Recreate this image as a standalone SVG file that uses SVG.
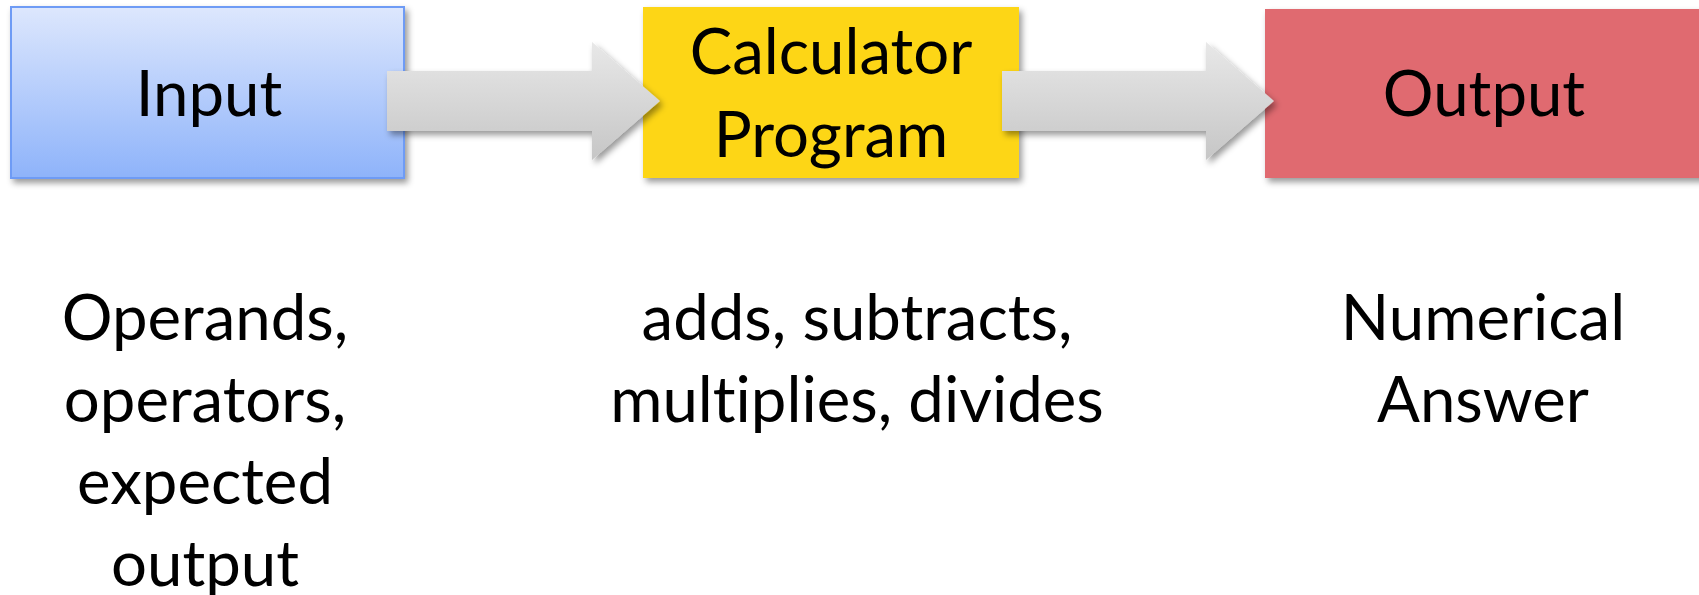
<svg xmlns="http://www.w3.org/2000/svg" width="1699" height="595" viewBox="0 0 1699 595">
<style>
.t{font-family:Lato,"Open Sans","DejaVu Sans",sans-serif;font-size:63.5px;fill:#000;text-anchor:middle;font-variant-ligatures:none;font-feature-settings:"liga" 0}
</style>
<defs>
<linearGradient id="gIn" x1="0" y1="0" x2="0" y2="1">
<stop offset="0" stop-color="#DDE7FD"/>
<stop offset="1" stop-color="#8EB3FA"/>
</linearGradient>
<linearGradient id="gAr" x1="0" y1="0" x2="0" y2="1">
<stop offset="0" stop-color="#E8E8E8"/>
<stop offset="1" stop-color="#C6C6C6"/>
</linearGradient>
<filter id="sh" x="-10%" y="-10%" width="130%" height="140%">
<feDropShadow dx="3" dy="4" stdDeviation="3" flood-color="#000" flood-opacity="0.4"/>
</filter>
</defs>
<rect width="1699" height="595" fill="#fff"/>
<g id="input">
<rect x="11" y="7" width="393" height="171" fill="url(#gIn)" stroke="#6E9BF5" stroke-width="2" filter="url(#sh)"/>
<text class="t" x="209" y="116">Input</text>
</g>
<g id="calculator">
<rect x="643" y="7" width="376" height="171" fill="#FDD618" filter="url(#sh)"/>
<text class="t" x="831" y="74">Calculator</text>
<text class="t" x="831" y="157">Program</text>
</g>
<g id="output">
<rect x="1265" y="9" width="440" height="169" fill="#E06B70" filter="url(#sh)"/>
<text class="t" x="1484" y="116">Output</text>
</g>
<g id="connectors">
<path d="M387,71 H592 V42 L660,101 L592,160 V131 H387 Z" fill="url(#gAr)" filter="url(#sh)"/>
<path d="M1002,71 H1206 V42 L1274,101 L1206,160 V131 H1002 Z" fill="url(#gAr)" filter="url(#sh)"/>
</g>
<g id="input-desc">
<text class="t" x="205" y="340">Operands,</text>
<text class="t" x="205" y="422">operators,</text>
<text class="t" x="205" y="504">expected</text>
<text class="t" x="205" y="586">output</text>
</g>
<g id="calc-desc">
<text class="t" x="857" y="340">adds, subtracts,</text>
<text class="t" x="857" y="422">multiplies, divides</text>
</g>
<g id="output-desc">
<text class="t" x="1483" y="340">Numerical</text>
<text class="t" x="1483" y="422">Answer</text>
</g>
</svg>
